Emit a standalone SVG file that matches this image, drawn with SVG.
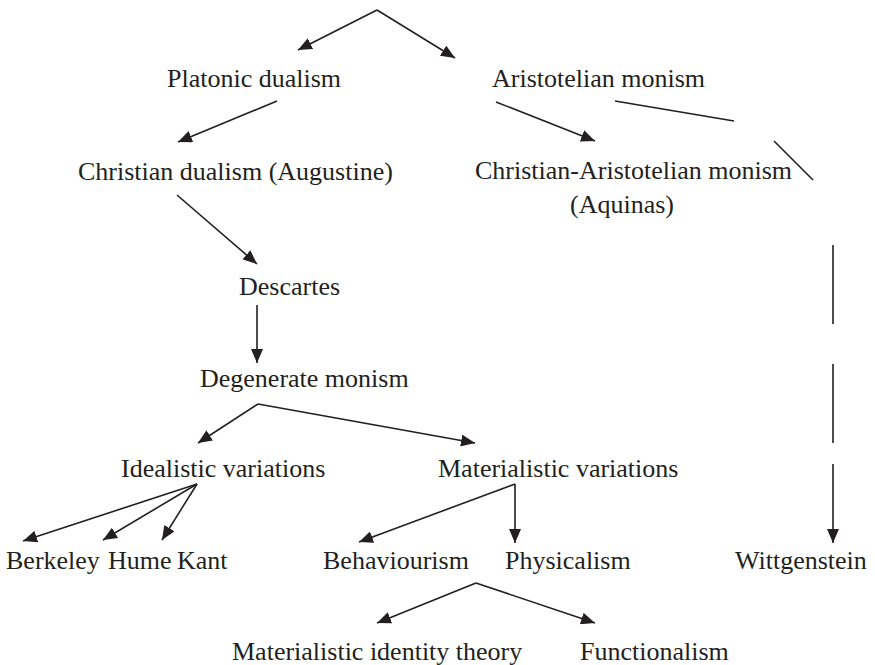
<svg xmlns="http://www.w3.org/2000/svg" width="875" height="665" viewBox="0 0 875 665">
<defs>
<marker id="ah" markerUnits="userSpaceOnUse" markerWidth="16" markerHeight="12" refX="14" refY="6" orient="auto">
<path d="M0,0 L14,6 L0,12 Z" fill="#231f20"/>
</marker>
<style>
text{font-family:"Liberation Serif","Times New Roman",serif;font-size:26px;fill:#231f20}
.c line{stroke:#231f20;stroke-width:1.6;fill:none}
.a{marker-end:url(#ah)}
</style>
</defs>
<rect width="875" height="665" fill="#fff"/>
<g id="connectors" class="c">
<line class="a" x1="377" y1="10" x2="298" y2="50"/>
<line class="a" x1="377" y1="10" x2="455" y2="58"/>
<line class="a" x1="277" y1="101" x2="178" y2="142"/>
<line class="a" x1="496" y1="102" x2="595" y2="141"/>
<line x1="615" y1="101" x2="734" y2="121"/>
<line x1="774" y1="141" x2="813" y2="180"/>
<line x1="833" y1="245" x2="833" y2="324"/>
<line x1="833" y1="364" x2="833" y2="443"/>
<line class="a" x1="833" y1="464" x2="833" y2="543"/>
<line class="a" x1="177" y1="195" x2="257" y2="264"/>
<line class="a" x1="257" y1="305" x2="257" y2="363"/>
<line class="a" x1="258" y1="404" x2="198" y2="443"/>
<line class="a" x1="258" y1="404" x2="475" y2="443"/>
<line class="a" x1="197" y1="484" x2="23" y2="541"/>
<line class="a" x1="197" y1="484" x2="103" y2="540"/>
<line class="a" x1="197" y1="484" x2="162" y2="540"/>
<line class="a" x1="515" y1="484" x2="359" y2="542"/>
<line class="a" x1="515" y1="484" x2="515" y2="543"/>
<line class="a" x1="476" y1="583" x2="377" y2="623"/>
<line class="a" x1="476" y1="583" x2="595" y2="623"/>
</g>
<g id="platonic"><text x="167" y="87">Platonic dualism</text></g>
<g id="aristotelian"><text x="492" y="87">Aristotelian monism</text></g>
<g id="christian-dualism"><text x="78" y="180">Christian dualism (Augustine)</text></g>
<g id="christian-aristotelian"><text x="475" y="179">Christian-Aristotelian monism</text><text x="570" y="213">(Aquinas)</text></g>
<g id="descartes"><text x="239" y="295">Descartes</text></g>
<g id="degenerate"><text x="200" y="387">Degenerate monism</text></g>
<g id="idealistic"><text x="121" y="477">Idealistic variations</text></g>
<g id="materialistic"><text x="438" y="477">Materialistic variations</text></g>
<g id="berkeley"><text x="6" y="569">Berkeley</text></g>
<g id="hume"><text x="108" y="569">Hume</text></g>
<g id="kant"><text x="177" y="569">Kant</text></g>
<g id="behaviourism"><text x="323" y="569">Behaviourism</text></g>
<g id="physicalism"><text x="505" y="569">Physicalism</text></g>
<g id="wittgenstein"><text x="735" y="569">Wittgenstein</text></g>
<g id="identity"><text x="232" y="660">Materialistic identity theory</text></g>
<g id="functionalism"><text x="580" y="660">Functionalism</text></g>
</svg>
